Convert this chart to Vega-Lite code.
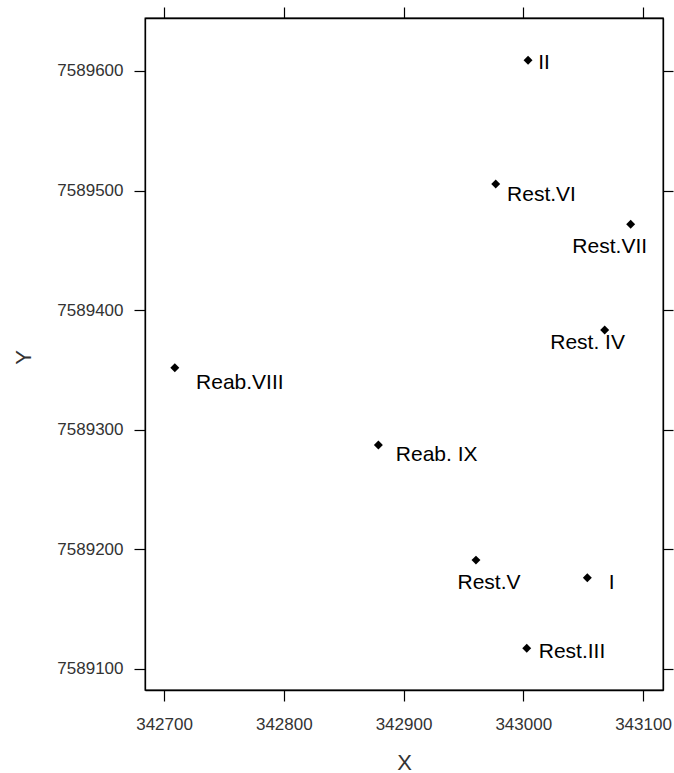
{
  "$schema": "https://vega.github.io/schema/vega-lite/v6.json",
  "width": 518,
  "height": 672,
  "autosize": {"type": "none"},
  "padding": {"left": 145, "top": 18, "right": 11, "bottom": 83},
  "background": "white",
  "config": {
    "view": {"stroke": "black", "strokeWidth": 1.3},
    "axis": {
      "grid": false,
      "domainColor": "black",
      "domainWidth": 1.3,
      "tickColor": "black",
      "tickWidth": 1.2,
      "tickSize": 11,
      "labelFont": "Liberation Sans",
      "labelFontSize": 17,
      "labelColor": "#333333",
      "labelFlush": false,
      "labelOverlap": false,
      "titleFont": "Liberation Sans",
      "titleFontSize": 22,
      "titleFontWeight": "normal",
      "titleColor": "#333333"
    }
  },
  "data": {
    "values": [
      {"name": "II", "X": 343004, "Y": 7589609, "lx": 343017.3, "ly": 7589606.4},
      {"name": "Rest.VI", "X": 342977, "Y": 7589505.5, "lx": 343015.2, "ly": 7589496.3},
      {"name": "Rest.VII", "X": 343089.7, "Y": 7589471.8, "lx": 343072.2, "ly": 7589452.8},
      {"name": "Rest. IV", "X": 343068, "Y": 7589383.4, "lx": 343053.7, "ly": 7589372.6},
      {"name": "Reab.VIII", "X": 342709, "Y": 7589351.9, "lx": 342763.3, "ly": 7589339.1},
      {"name": "Reab. IX", "X": 342879, "Y": 7589287.3, "lx": 342927.7, "ly": 7589278.9},
      {"name": "Rest.V", "X": 342960.5, "Y": 7589191, "lx": 342971.4, "ly": 7589171.9},
      {"name": "I", "X": 343053.5, "Y": 7589176.3, "lx": 343073.9, "ly": 7589171.9},
      {"name": "Rest.III", "X": 343002.9, "Y": 7589117.3, "lx": 343040.7, "ly": 7589114.5}
    ]
  },
  "layer": [
    {
      "mark": {"type": "point", "shape": "diamond", "filled": true, "color": "black", "size": 80, "opacity": 1},
      "encoding": {
        "x": {
          "field": "X", "type": "quantitative",
          "scale": {"domain": [342684.1, 343116.7], "nice": false, "zero": false},
          "axis": {
            "orient": "bottom",
            "values": [342700, 342800, 342900, 343000, 343100],
            "format": "d",
            "title": "X",
            "labelBaseline": "alphabetic",
            "labelPadding": 28,
            "titleX": 259,
            "titleY": 79,
            "titleBaseline": "alphabetic"
          }
        },
        "y": {
          "field": "Y", "type": "quantitative",
          "scale": {"domain": [7589082.4, 7589644.3], "nice": false, "zero": false},
          "axis": {
            "orient": "left",
            "values": [7589100, 7589200, 7589300, 7589400, 7589500, 7589600],
            "format": "d",
            "title": "Y",
            "labelPadding": 11,
            "titleX": -122,
            "titleY": 339,
            "titleAngle": -90,
            "titleAlign": "center",
            "titleBaseline": "middle"
          }
        }
      }
    },
    {
      "mark": {"type": "text", "font": "Liberation Sans", "fontSize": 21, "color": "black", "align": "center", "baseline": "middle"},
      "encoding": {
        "x": {
          "field": "lx", "type": "quantitative",
          "axis": {"orient": "top", "values": [342700, 342800, 342900, 343000, 343100], "labels": false, "title": null}
        },
        "y": {
          "field": "ly", "type": "quantitative",
          "axis": {"orient": "right", "values": [7589100, 7589200, 7589300, 7589400, 7589500, 7589600], "labels": false, "title": null, "tickSize": 10}
        },
        "text": {"field": "name"}
      }
    }
  ],
  "resolve": {"axis": {"x": "independent", "y": "independent"}}
}
